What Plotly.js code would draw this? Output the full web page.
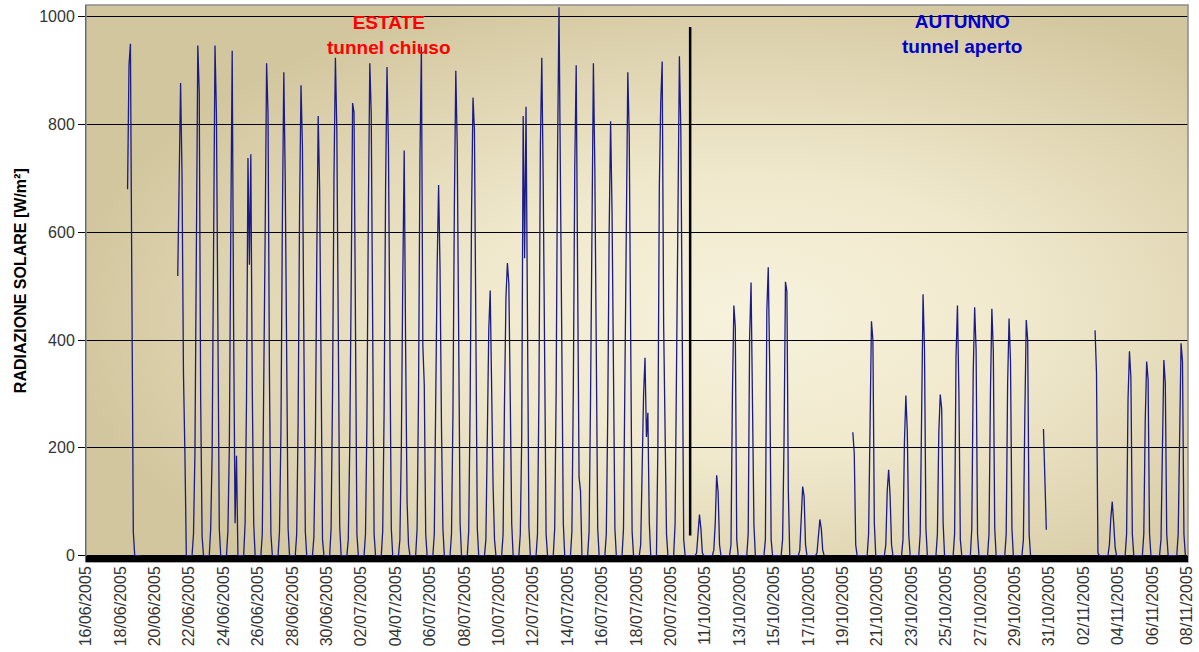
<!DOCTYPE html>
<html>
<head>
<meta charset="utf-8">
<script src="https://cdn.plot.ly/plotly-3.0.1.min.js"></script>
<style>html,body{margin:0;padding:0;background:#fff;}#chart{width:1199px;height:652px;}</style>
</head>
<body>
<div id="chart"></div>
<script>
// ---------------- DATA ----------------
// Tick labels (every second day on the category axis)
const tickLabels = ['16/06/2005','18/06/2005','20/06/2005','22/06/2005','24/06/2005','26/06/2005','28/06/2005','30/06/2005',
  '02/07/2005','04/07/2005','06/07/2005','08/07/2005','10/07/2005','12/07/2005','14/07/2005','16/07/2005','18/07/2005','20/07/2005',
  '11/10/2005','13/10/2005','15/10/2005','17/10/2005','19/10/2005','21/10/2005','23/10/2005','25/10/2005','27/10/2005','29/10/2005','31/10/2005',
  '02/11/2005','04/11/2005','06/11/2005','08/11/2005'];

// Sample hours within each day
const summerHours = [4, 6, 8, 10, 12, 14, 16, 18, 20];
const autumnHours = [10, 12, 14, 16, 18, 20, 22];

// Solar radiation [W/m2], summer 16/06 .. 20/07 (null = no data)
const summerRadiation = [
  null,                                          // 16/06
  null,                                          // 17/06
  [null, null, null, 680, 910, 950, 400, 44, 0], // 18/06
  [0, null, null, null, null, null, null, null, null], // 19/06
  null,                                          // 20/06
  [null, null, 519, 671, 877, 705, 337, 191, 0], // 21/06
  [0, 40, 190, 625, 947, 860, 290, 35, 0],       // 22/06
  [0, 50, 189, 614, 947, 820, 310, 50, 0],       // 23/06
  [0, 45, 200, 600, 937, 420, 60, 185, 0],       // 24/06
  [0, 60, 290, 738, 540, 745, 310, 60, 0],       // 25/06
  [0, 40, 270, 600, 914, 820, 330, 40, 0],       // 26/06
  [0, 45, 230, 620, 897, 700, 280, 50, 0],       // 27/06
  [0, 40, 250, 640, 873, 760, 320, 45, 0],       // 28/06
  [0, 35, 200, 550, 816, 680, 250, 30, 0],       // 29/06
  [0, 50, 300, 700, 924, 790, 330, 55, 0],       // 30/06
  [0, 30, 200, 500, 840, 823, 330, 40, 0],       // 01/07
  [0, 40, 250, 640, 914, 820, 300, 40, 0],       // 02/07
  [0, 45, 270, 680, 907, 760, 320, 50, 0],       // 03/07
  [0, 30, 200, 510, 752, 385, 101, 20, 0],       // 04/07
  [0, 50, 300, 740, 945, 390, 317, 40, 0],       // 05/07
  [0, 40, 330, 539, 688, 533, 240, 50, 0],       // 06/07
  [0, 40, 260, 650, 900, 760, 340, 60, 0],       // 07/07
  [0, 45, 280, 640, 850, 790, 300, 50, 0],       // 08/07
  [0, 30, 190, 420, 492, 287, 130, 30, 0],       // 09/07
  [0, 40, 290, 480, 543, 505, 290, 60, 0],       // 10/07
  [0, 40, 222, 816, 552, 833, 400, 54, 0],       // 11/07
  [0, 40, 300, 760, 924, 690, 330, 40, 0],       // 12/07
  [0, 50, 300, 748, 1018, 700, 398, 60, 0],      // 13/07
  [0, 45, 310, 720, 910, 520, 145, 120, 0],      // 14/07
  [0, 45, 290, 700, 914, 720, 300, 50, 0],       // 15/07
  [0, 40, 260, 600, 806, 640, 280, 50, 0],       // 16/07
  [0, 50, 330, 720, 897, 780, 330, 45, 0],       // 17/07
  [0, 20, 160, 297, 367, 220, 265, 61, 0],       // 18/07
  [0, 206, 684, 843, 917, 431, 250, 40, 0],      // 19/07
  [0, 60, 330, 720, 927, 789, 405, 30, 0]        // 20/07
];

// Solar radiation [W/m2], autumn 10/10 .. 08/11
const autumnRadiation = [
  [0, 5, 40, 76, 50, 5, 0],          // 10/10
  [0, 10, 60, 149, 118, 20, 0],      // 11/10
  [0, 20, 300, 464, 424, 30, 0],     // 12/10
  [0, 40, 406, 507, 320, 57, 0],     // 13/10
  [0, 30, 455, 535, 350, 30, 0],     // 14/10
  [0, 30, 211, 508, 490, 120, 0],    // 15/10
  [0, 10, 70, 128, 110, 20, 0],      // 16/10
  [0, 5, 40, 67, 50, 10, 0],         // 17/10
  null,                              // 18/10
  [null, null, 229, 190, 20, 0, 0],  // 19/10
  [0, 40, 300, 435, 400, 60, 0],     // 20/10
  [0, 20, 120, 159, 110, 20, 0],     // 21/10
  [0, 30, 210, 297, 230, 40, 0],     // 22/10
  [0, 40, 266, 485, 382, 50, 0],     // 23/10
  [0, 40, 230, 299, 272, 60, 0],     // 24/10
  [0, 40, 369, 464, 300, 30, 0],     // 25/10
  [0, 50, 340, 461, 382, 40, 0],     // 26/10
  [0, 40, 300, 458, 380, 50, 0],     // 27/10
  [0, 40, 320, 440, 360, 50, 0],     // 28/10
  [0, 30, 260, 437, 400, 40, 0],     // 29/10
  [null, null, null, 235, 155, 48, null], // 30/10
  null,                              // 31/10
  null,                              // 01/11
  [null, null, null, 418, 339, 5, 0],// 02/11
  [0, 20, 70, 100, 60, 15, 0],       // 03/11
  [0, 40, 290, 379, 330, 40, 0],     // 04/11
  [0, 40, 250, 360, 327, 40, 0],     // 05/11
  [0, 30, 240, 363, 320, 40, 0],     // 06/11
  [0, 40, 250, 394, 360, 40, 0],     // 07/11
  null                               // 08/11
];

// Season boundary marker (vertical line) value span
const boundarySpan = [37, 981];

// ---------------- BUILD ----------------
const xs = [], ys = [];
function addSeason(days, hours, startIndex) {
  days.forEach((vals, i) => {
    const d = startIndex + i;
    if (vals === null) { xs.push(d + 0.5); ys.push(null); return; }
    vals.forEach((v, j) => { xs.push(d + hours[j] / 24); ys.push(v); });
  });
}
addSeason(summerRadiation, summerHours, 0);
const autumnStart = summerRadiation.length;
addSeason(autumnRadiation, autumnHours, autumnStart);

const lastSummerX = (autumnStart - 1) + summerHours[summerHours.length - 1] / 24;
const firstAutumnX = autumnStart + autumnHours[0] / 24;
const boundaryX = (lastSummerX + firstAutumnX) / 2;

const tickVals = tickLabels.map((_, i) => i * 2);
const nDays = summerRadiation.length + autumnRadiation.length;

const FONT = 'Liberation Sans, Arial, sans-serif';

const bgSvg = "<svg xmlns='http://www.w3.org/2000/svg' width='1102' height='557' viewBox='0 0 1102 557' preserveAspectRatio='none'>" +
  "<defs><radialGradient id='g' cx='0.6' cy='0.56' r='0.62' gradientUnits='objectBoundingBox'>" +
  "<stop offset='0' stop-color='#f7f2dd'/><stop offset='0.4' stop-color='#f0e9cd'/><stop offset='0.8' stop-color='#ddd2ae'/><stop offset='1' stop-color='#d2c69e'/>" +
  "</radialGradient></defs><rect x='0' y='0' width='1102' height='557' fill='url(#g)'/></svg>";

const trace = {
  x: xs, y: ys, type: 'scatter', mode: 'lines',
  line: { color: '#1b1b85', width: 1.3 },
  connectgaps: false, hoverinfo: 'skip'
};

const layout = {
  width: 1199, height: 652,
  margin: { l: 86, r: 11, t: 5, b: 90 },
  paper_bgcolor: '#ffffff',
  plot_bgcolor: 'rgba(0,0,0,0)',
  showlegend: false,
  xaxis: {
    range: [0, nDays - 1 + 0.07],
    tickmode: 'array', tickvals: tickVals, ticktext: tickLabels,
    tickangle: -90, ticks: '', showgrid: false, zeroline: false, showline: false,
    tickfont: { family: FONT, size: 16, color: '#333333' },
    fixedrange: true
  },
  yaxis: {
    range: [-12, 1022],
    tickmode: 'array', tickvals: [0, 200, 400, 600, 800, 1000],
    showgrid: true, gridcolor: '#000000', gridwidth: 1,
    zeroline: false, showline: true, linecolor: '#000000', linewidth: 1,
    ticks: 'outside', ticklen: 7, tickcolor: '#000000',
    tickfont: { family: FONT, size: 16, color: '#333333' },
    fixedrange: true
  },
  images: [{
    source: 'data:image/svg+xml;charset=utf-8,' + encodeURIComponent(bgSvg),
    xref: 'paper', yref: 'paper', x: 0, y: 1, sizex: 1, sizey: 1,
    xanchor: 'left', yanchor: 'top', sizing: 'stretch', layer: 'below'
  }],
  shapes: [
    { type: 'rect', xref: 'paper', yref: 'paper', x0: 0, x1: 1, y0: 0, y1: 1,
      line: { color: '#8c8c8c', width: 1.5 }, fillcolor: 'rgba(0,0,0,0)', layer: 'above' },
    { type: 'rect', xref: 'paper', yref: 'y', x0: 0, x1: 1, y0: -12, y1: -1,
      line: { width: 0 }, fillcolor: '#000000', layer: 'above' },
    { type: 'line', xref: 'x', yref: 'y', x0: boundaryX, x1: boundaryX, y0: boundarySpan[0], y1: boundarySpan[1],
      line: { color: '#000000', width: 2.5 }, layer: 'above' }
  ],
  annotations: [
    { xref: 'paper', yref: 'paper', x: -0.0599, y: 0.506, xanchor: 'center', yanchor: 'middle',
      text: '<b>RADIAZIONE SOLARE [W/m²]</b>', textangle: -90, showarrow: false,
      font: { family: FONT, size: 16, color: '#000000' } },
    { xref: 'paper', yref: 'paper', x: 0.275, y: 0.946, xanchor: 'center', yanchor: 'middle',
      text: '<b>ESTATE</b><br><b>tunnel chiuso</b>', showarrow: false,
      font: { family: FONT, size: 19, color: '#ff0000' } },
    { xref: 'paper', yref: 'paper', x: 0.795, y: 0.948, xanchor: 'center', yanchor: 'middle',
      text: '<b>AUTUNNO</b><br><b>tunnel aperto</b>', showarrow: false,
      font: { family: FONT, size: 19, color: '#0000cc' } }
  ]
};

Plotly.newPlot('chart', [trace], layout, { staticPlot: true, displayModeBar: false });
</script>
</body>
</html>
